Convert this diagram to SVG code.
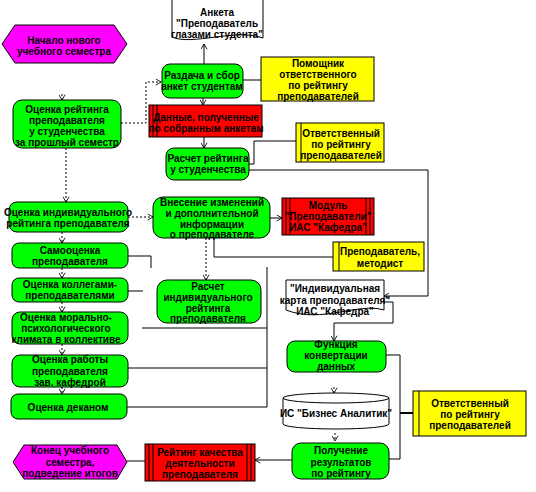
<svg xmlns="http://www.w3.org/2000/svg" width="536" height="492" viewBox="0 0 536 492">
<defs>
<marker id="arr" viewBox="0 0 8 8" refX="7" refY="4" markerWidth="7" markerHeight="7" markerUnits="userSpaceOnUse" orient="auto">
<path d="M1,0.5 L7,4 L1,7.5" fill="none" stroke="#000" stroke-width="1"/>
</marker>
</defs>
<style>
text{font-family:"Liberation Sans",Arial,sans-serif;font-size:10px;font-weight:bold;fill:#000;text-anchor:middle}
.g{fill:#00ff00;stroke:#000;stroke-width:1}
.r{fill:#ff0000;stroke:#000;stroke-width:1}
.y{fill:#ffff00;stroke:#000;stroke-width:1}
.m{fill:#ff00ff;stroke:#000;stroke-width:1}
.w{fill:#fff;stroke:#000;stroke-width:1}
.ln{fill:none;stroke:#000;stroke-width:1}
.d{fill:none;stroke:#000;stroke-width:1;stroke-dasharray:2,2}
.a{marker-end:url(#arr)}
</style>
<rect width="536" height="492" fill="#fff"/>

<g id="connectors">
<path class="ln a" d="M204,64 V44"/>
<path class="ln" d="M243,80 H261"/>
<path class="d a" d="M121,123 H146 V82 H161"/>
<path class="ln a" d="M203,98 V105"/>
<path class="ln a" d="M204,137 V148"/>
<path class="ln" d="M249,164 H254 V141 H296"/>
<path class="ln a" d="M249,170 H428 V296 H384"/>
<path class="d a" d="M66,148 V202"/>
<path class="d a" d="M128,217 H153"/>
<path class="ln a" d="M270,218 H282"/>
<path class="ln" d="M214,238 V257 H333"/>
<path class="d a" d="M206,238 V280"/>
<path class="d a" d="M62,232 V243"/>
<path class="ln" d="M128,256 H151 V268"/>
<path class="ln" d="M128,291 H143"/>
<path class="d a" d="M62,268 V278"/>
<path class="d a" d="M62,302 V312"/>
<path class="d a" d="M62,344 V355"/>
<path class="d a" d="M62,387 V394"/>
<path class="ln" d="M267,267 V407 M142,328 H267 M128,368 H267 M127,407 H267"/>
<path class="ln a" d="M384,302 H393 V323 H334 V341"/>
<path class="ln" d="M386,355 H400 V459 H389"/>
<path d="M400,413 H413" fill="none" stroke="#000" stroke-width="2"/>
<path class="d a" d="M334,387 V393"/>
<path class="d a" d="M335,433 V441"/>
<path class="d a" d="M62,94 V100"/>
<path class="ln a" d="M292,460 H255"/>
<path class="ln" d="M145,461 H127"/>
</g>

<g id="anketa">
<path class="w" d="M172,-1 V37 C192,46 236,28 263,38 V-1"/>
<text x="217" y="16">Анкета</text>
<text x="217" y="27">"Преподаватель</text>
<text x="217" y="38">глазами студента"</text>
</g>

<g id="start">
<polygon class="m" points="2,44 15,25 114,25 127,44 114,63 15,63"/>
<text x="64" y="44">Начало нового</text>
<text x="64" y="55">учебного семестра</text>
</g>

<g id="razdacha">
<rect class="g" x="162" y="64" width="81" height="34" rx="8"/>
<text x="202" y="79">Раздача и сбор</text>
<text x="202" y="90">анкет студентам</text>
</g>

<g id="pomoshnik">
<rect class="y" x="261" y="57" width="113" height="44"/>
<text x="318" y="67">Помощник</text>
<text x="318" y="78">ответственного</text>
<text x="318" y="89">по рейтингу</text>
<text x="318" y="100">преподавателей</text>
</g>

<g id="ocenka-reitinga">
<rect class="g" x="13" y="100" width="108" height="48" rx="9"/>
<text x="67" y="113">Оценка рейтинга</text>
<text x="67" y="124">преподавателя</text>
<text x="67" y="135">у студенчества</text>
<text x="67" y="146">за прошлый семестр</text>
</g>

<g id="dannye">
<rect class="r" x="149" y="105" width="113" height="32"/>
<path class="ln" d="M153,105 V137 M157,105 V137"/>
<text x="206" y="121">Данные, полученные</text>
<text x="206" y="132">по собранным анкетам</text>
</g>

<g id="raschet-studenty">
<rect class="g" x="166" y="148" width="83" height="32" rx="8"/>
<text x="208" y="162">Расчет рейтинга</text>
<text x="208" y="173">у студенчества</text>
</g>

<g id="otvetstvenny-1">
<rect class="y" x="296" y="123" width="88" height="39"/>
<path class="ln" d="M301,123 V162"/>
<text x="341" y="137">Ответственный</text>
<text x="341" y="148">по рейтингу</text>
<text x="341" y="159">преподавателей</text>
</g>

<g id="ocenka-individ">
<rect class="g" x="9" y="202" width="119" height="30" rx="8"/>
<text x="68" y="216">Оценка индивидуального</text>
<text x="68" y="227">рейтинга преподавателя</text>
</g>

<g id="vnesenie">
<rect class="g" x="153" y="197" width="117" height="41" rx="10"/>
<text x="212" y="206">Внесение изменений</text>
<text x="212" y="217">и дополнительной</text>
<text x="212" y="228">информации</text>
<text x="212" y="238">о преподавателе</text>
</g>

<g id="modul">
<rect class="r" x="282" y="198" width="92" height="37"/>
<path class="ln" d="M286,198 V235 M290,198 V235 M366,198 V235 M370,198 V235"/>
<text x="328" y="209">Модуль</text>
<text x="328" y="220">"Преподаватели"</text>
<text x="328" y="231">ИАС "Кафедра"</text>
</g>

<g id="prepodavatel-metodist">
<rect class="y" x="333" y="242" width="91" height="29"/>
<path class="ln" d="M339,242 V271"/>
<text x="380" y="255">Преподаватель,</text>
<text x="380" y="267">методист</text>
</g>

<g id="samoocenka">
<rect class="g" x="12" y="243" width="116" height="25" rx="7"/>
<text x="70" y="254">Самооценка</text>
<text x="70" y="265">преподавателя</text>
</g>

<g id="ocenka-kollegami">
<rect class="g" x="12" y="278" width="116" height="24" rx="7"/>
<text x="70" y="288">Оценка коллегами-</text>
<text x="70" y="299">преподавателями</text>
</g>

<g id="raschet-individ">
<rect class="g" x="157" y="280" width="104" height="43" rx="10"/>
<text x="208" y="290">Расчет</text>
<text x="208" y="301">индивидуального</text>
<text x="208" y="312">рейтинга</text>
<text x="208" y="322">преподавателя</text>
</g>

<g id="individ-karta">
<path class="w" d="M286,280 H384 V310 C358,302 322,324 286,310 Z"/>
<text x="335" y="292">"Индивидуальная</text>
<text x="335" y="304">карта преподавателя"</text>
<text x="335" y="315">ИАС "Кафедра"</text>
</g>

<g id="ocenka-moralno">
<rect class="g" x="12" y="312" width="116" height="32" rx="8"/>
<text x="66" y="321">Оценка морально-</text>
<text x="66" y="332">психологического</text>
<text x="66" y="343">климата в коллективе</text>
</g>

<g id="ocenka-raboty">
<rect class="g" x="12" y="355" width="116" height="32" rx="8"/>
<text x="70" y="363">Оценка работы</text>
<text x="70" y="375">преподавателя</text>
<text x="70" y="386">зав. кафедрой</text>
</g>

<g id="ocenka-dekanom">
<rect class="g" x="11" y="394" width="116" height="25" rx="7"/>
<text x="68" y="411">Оценка деканом</text>
</g>

<g id="funkcia">
<rect class="g" x="287" y="341" width="99" height="31" rx="8"/>
<text x="336" y="348">Функция</text>
<text x="336" y="359">конвертации</text>
<text x="336" y="370">данных</text>
</g>

<g id="is-biznes">
<path class="w" d="M283,398 A53,5 0 0 1 389,398 V424 A53,5 0 0 1 283,424 Z"/>
<path class="ln" d="M283,398 A53,5 0 0 0 389,398"/>
<text x="336" y="417">ИС "Бизнес Аналитик"</text>
</g>

<g id="poluchenie">
<rect class="g" x="292" y="443" width="97" height="36" rx="9"/>
<text x="341" y="454">Получение</text>
<text x="341" y="466">результатов</text>
<text x="341" y="477">по рейтингу</text>
</g>

<g id="otvetstvenny-2">
<rect class="y" x="413" y="391" width="113" height="45"/>
<path class="ln" d="M419,391 V436"/>
<text x="470" y="407">Ответственный</text>
<text x="470" y="418">по рейтингу</text>
<text x="470" y="429">преподавателей</text>
</g>

<g id="reiting-kachestva">
<rect class="r" x="145" y="444" width="110" height="37"/>
<path class="ln" d="M149,444 V481 M153,444 V481 M247,444 V481 M251,444 V481"/>
<text x="200" y="456">Рейтинг качества</text>
<text x="200" y="467">деятельности</text>
<text x="200" y="478">преподавателя</text>
</g>

<g id="end">
<polygon class="m" points="13,462 24,445 117,445 127,462 117,479 24,479"/>
<text x="70" y="454">Конец учебного</text>
<text x="70" y="466">семестра,</text>
<text x="70" y="477">подведение итогов</text>
</g>
</svg>
